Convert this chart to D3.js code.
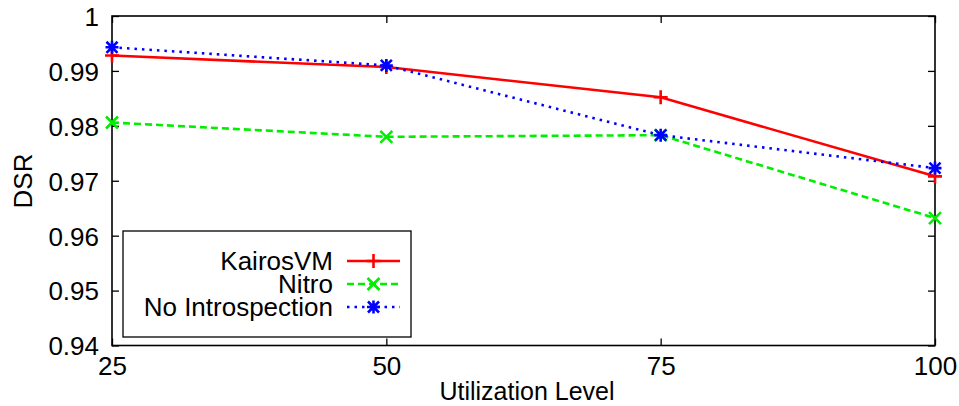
<!DOCTYPE html>
<html>
<head>
<meta charset="utf-8">
<script src="https://cdn.jsdelivr.net/npm/d3@7"></script>
<style>
  html, body { margin: 0; padding: 0; background: #fff; }
  svg { display: block; font-family: "Liberation Sans", Arial, Helvetica, sans-serif; }
</style>
</head>
<body>
<svg id="chart" width="959" height="406"></svg>
<script>
// Utilization levels on the x axis
const levels = [25, 50, 75, 100];
// DSR per scheduler at each utilization level
const kairosVM = [0.9928, 0.9907, 0.9852, 0.9708];
const nitro = [0.9806, 0.9780, 0.9783, 0.9632];
const noIntrospection = [0.9943, 0.9910, 0.9783, 0.9723];
const seriesNames = ["KairosVM", "Nitro", "No Introspection"];
const yTicks = [0.94, 0.95, 0.96, 0.97, 0.98, 0.99, 1];

const svg = d3.select("#chart");
const m = { left: 112, right: 935, top: 16, bottom: 345.5 };

const x = d3.scaleLinear().domain([25, 100]).range([m.left, m.right]);
const y = d3.scaleLinear().domain([0.94, 1]).range([m.bottom, m.top]);

const fontSize = 26;
const tickLen = 7;

// axes: bottom/left with labels, top/right mirrored ticks only
const gx = svg.append("g").attr("transform", `translate(0,${m.bottom})`)
  .call(d3.axisBottom(x).tickValues(levels).tickSizeInner(-tickLen).tickSizeOuter(0).tickPadding(11).tickFormat(d3.format("d")));
const gxTop = svg.append("g").attr("transform", `translate(0,${m.top})`)
  .call(d3.axisTop(x).tickValues(levels).tickSizeInner(-tickLen).tickSizeOuter(0).tickFormat(""));
const gy = svg.append("g").attr("transform", `translate(${m.left},0)`)
  .call(d3.axisLeft(y).tickValues(yTicks).tickSizeInner(-tickLen).tickSizeOuter(0).tickPadding(13)
    .tickFormat(d => d === 1 ? "1" : d3.format(".2f")(d)));
const gyRight = svg.append("g").attr("transform", `translate(${m.right},0)`)
  .call(d3.axisRight(y).tickValues(yTicks).tickSizeInner(-tickLen).tickSizeOuter(0).tickFormat(""));

[gx, gxTop, gy, gyRight].forEach(g => {
  g.select(".domain").remove();
  g.selectAll(".tick line").attr("stroke", "#000").attr("stroke-width", 1.3);
  g.selectAll(".tick text").attr("fill", "#000").attr("font-size", fontSize)
    .attr("font-family", "Liberation Sans, Arial, sans-serif");
});
gx.selectAll(".tick text").attr("dy", "0.71em");
gy.selectAll(".tick text").attr("dy", "0.36em");

// frame
svg.append("rect")
  .attr("x", m.left).attr("y", m.top)
  .attr("width", m.right - m.left).attr("height", m.bottom - m.top)
  .attr("fill", "none").attr("stroke", "#000").attr("stroke-width", 1.6);

// axis titles
svg.append("text").attr("x", 527).attr("y", 400)
  .attr("text-anchor", "middle").attr("font-size", 25).text("Utilization Level");
svg.append("text").attr("transform", "translate(32,181) rotate(-90)")
  .attr("text-anchor", "middle").attr("font-size", fontSize).text("DSR");

// marker shapes
function plusPath(s) { return `M${-s},0H${s}M0,${-s}V${s}`; }
function crossPath(s) { return `M${-s},${-s}L${s},${s}M${-s},${s}L${s},${-s}`; }
function starPath(s) { return plusPath(s) + crossPath(s * 0.85); }

const series = [
  { name: seriesNames[0], values: kairosVM, color: "#ff0000", dash: null, marker: plusPath(7) },
  { name: seriesNames[1], values: nitro, color: "#00ee00", dash: "7,4", marker: crossPath(6) },
  { name: seriesNames[2], values: noIntrospection, color: "#0000ff", dash: "2.5,5", marker: starPath(6.5) }
];

const line = d3.line().x((d, i) => x(levels[i])).y(d => y(d));

series.forEach(s => {
  svg.append("path").datum(s.values)
    .attr("d", line).attr("fill", "none")
    .attr("stroke", s.color).attr("stroke-width", 2.6)
    .attr("stroke-dasharray", s.dash);
  svg.selectAll(null).data(s.values).enter().append("path")
    .attr("transform", (d, i) => `translate(${x(levels[i])},${y(d)})`)
    .attr("d", s.marker).attr("fill", "none")
    .attr("stroke", s.color).attr("stroke-width", 2.6);
});

// legend
const legend = svg.append("g");
legend.append("rect").attr("x", 123).attr("y", 231).attr("width", 288).attr("height", 106)
  .attr("fill", "#fff").attr("stroke", "#000").attr("stroke-width", 1.3);
const rowY = [261, 284, 307];
series.forEach((s, i) => {
  legend.append("text").attr("x", 333).attr("y", rowY[i]).attr("dy", "0.36em")
    .attr("text-anchor", "end").attr("font-size", fontSize).text(s.name);
  legend.append("line").attr("x1", 347).attr("x2", 400).attr("y1", rowY[i]).attr("y2", rowY[i])
    .attr("stroke", s.color).attr("stroke-width", 2.6).attr("stroke-dasharray", s.dash);
  legend.append("path").attr("transform", `translate(373.5,${rowY[i]})`)
    .attr("d", s.marker).attr("fill", "none").attr("stroke", s.color).attr("stroke-width", 2.6);
});
</script>
</body>
</html>
